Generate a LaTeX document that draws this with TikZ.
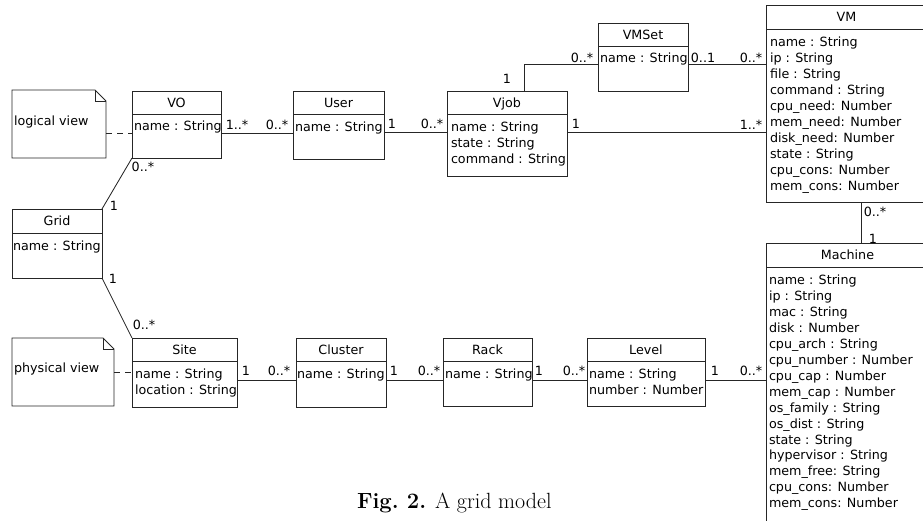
\documentclass[tikz,border=0pt]{standalone}
\usepackage{fontspec}
\newfontfamily\umlf{DejaVu Sans}
\usetikzlibrary{calc}
\definecolor{ln}{HTML}{262626}
\newcommand\mkcls[7]{%
  \node[clsbox, minimum width={(#4-#2)*1pt}, minimum height={(#5-#3)*1pt}] (#1) at (#2,#3) {};
  \draw[conn] ([yshift={-(#6-#3)*1pt}]#1.north west) -- ([yshift={-(#6-#3)*1pt}]#1.north east);
  \node[txt, anchor=base] (#1-t) at ({(#2+#4)/2},{#3+16.5}) {#7};
}
\newcommand\mkattrs[4]{%
  \foreach \t [count=\i] in {#4} {\node[txt, anchor=base west] (#1-a\i) at (#2,{#3+15.95*(\i-1)}) {\t};}
}
\newcommand\mknote[5]{%
  \node[notebox, minimum width={(#4-#2)*1pt}, minimum height={(#5-#3)*1pt}] (#1) at (#2,#3) {};
  \draw[conn] (#1.north west) -- ([xshift=-11pt]#1.north east) -- ([yshift=-11pt]#1.north east)
     -- (#1.south east) -- (#1.south west) -- cycle;
  \draw[conn] ([xshift=-11pt]#1.north east) |- ([yshift=-11pt]#1.north east);
}
\begin{document}
\begin{tikzpicture}[x=1pt,y=-1pt,
  every node/.style={inner sep=0pt, outer sep=0pt},
  conn/.style={draw=ln, line width=0.85pt},
  dconn/.style={conn, dash pattern=on 6pt off 5pt},
  clsbox/.style={draw=ln, line width=0.85pt, anchor=north west, rectangle},
  notebox/.style={anchor=north west, rectangle},
  txt/.style={font=\umlf\fontsize{12.7}{15.9}\selectfont, text=black},
  lab/.style={txt, anchor=center}]
\useasboundingbox (0,0) rectangle (923,520);
\clip (0,0) rectangle (923,520);

% notes
\mknote{lognote}{12}{90}{106}{158}
\node[txt, anchor=base west] (lognote-t) at (14,125.5) {logical view};
\mknote{physnote}{12}{338}{114}{406}
\node[txt, anchor=base west] (physnote-t) at (14,372.5) {physical view};

% classes
\mkcls{vo}{132}{91}{221}{158}{114}{VO}
\mkattrs{vo}{134}{130.5}{name : String}
\mkcls{grid}{12}{209}{102}{278}{233}{Grid}
\mkattrs{grid}{13}{250.5}{name : String}
\mkcls{user}{293}{91}{384}{159}{114}{User}
\mkattrs{user}{295}{131}{name : String}
\mkcls{vjob}{447}{91}{567}{176}{114}{Vjob}
\mkattrs{vjob}{451}{131.5}{name : String, state : String, command : String}
\mkcls{vmset}{598}{23}{688}{91}{46}{VMSet}
\mkattrs{vmset}{600}{62.5}{name : String}
\mkcls{vm}{766}{5}{927}{202}{29}{VM}
\mkattrs{vm}{770}{46.5}{name : String, ip : String, file : String, command : String, cpu\_need: Number, mem\_need: Number, disk\_need: Number, state : String, cpu\_cons: Number, mem\_cons: Number}
\mkcls{machine}{766}{243}{929}{530}{267}{Machine}
\mkattrs{machine}{769}{284.5}{name : String, ip : String, mac : String, disk : Number, cpu\_arch : String, cpu\_number : Number, cpu\_cap : Number, mem\_cap : Number, os\_family : String, os\_dist : String, state : String, hypervisor : String, mem\_free: String, cpu\_cons: Number, mem\_cons: Number}
\mkcls{site}{132}{338}{237}{407}{361}{Site}
\mkattrs{site}{135}{378.5}{name : String, location : String}
\mkcls{cluster}{296}{338}{386}{407}{361}{Cluster}
\mkattrs{cluster}{297}{378.5}{name : String}
\mkcls{rack}{443}{338}{532}{406}{361}{Rack}
\mkattrs{rack}{445}{378.5}{name : String}
\mkcls{level}{587}{338}{705}{406}{361}{Level}
\mkattrs{level}{589}{378.5}{name : String, number : Number}

% connectors
\draw[dconn] ([yshift=-43pt]lognote.north east) -- ([yshift=-42pt]vo.north west);
\draw[dconn] ([yshift=-34pt]physnote.north east) -- ([yshift=-34pt]site.north west);
\draw[conn] ([yshift=-42pt]vo.north east) -- ([yshift=-42pt]user.north west);
\draw[conn] ([yshift=-41pt]user.north east) -- ([yshift=-41pt]vjob.north west);
\draw[conn] ([yshift=-41pt]vjob.north east) -- ([yshift=-127pt]vm.north west);
\draw[conn] ([xshift=77pt]vjob.north west) |- ([yshift=-41.5pt]vmset.north west);
\draw[conn] ([yshift=-41.5pt]vmset.north east) -- ([yshift=-59.5pt]vm.north west);
\draw[conn] ([xshift=95pt]vm.south west) -- ([xshift=95pt]machine.north west);
\draw[conn] (grid.north east) -- (vo.south west);
\draw[conn] (grid.south east) -- (site.north west);
\draw[conn] ([yshift=-42pt]site.north east) -- ([yshift=-42pt]cluster.north west);
\draw[conn] ([yshift=-42pt]cluster.north east) -- ([yshift=-42pt]rack.north west);
\draw[conn] ([yshift=-42pt]rack.north east) -- ([yshift=-42pt]level.north west);
\draw[conn] ([yshift=-42pt]level.north east) -- ([yshift=-137pt]machine.north west);

% multiplicities
\node[lab] (m1) at (237,124.5) {1..*};
\node[lab] (m2) at (277,124.5) {0..*};
\node[lab] (m3) at (392,124) {1};
\node[lab] (m4) at (432,124) {0..*};
\node[lab] (m5) at (576,124) {1};
\node[lab] (m6) at (751,124.5) {1..*};
\node[lab] (m7) at (507,79) {1};
\node[lab] (m8) at (582,58) {0..*};
\node[lab] (m9) at (703,57.5) {0..1};
\node[lab] (m10) at (751,57.5) {0..*};
\node[lab] (m11) at (875,212) {0..*};
\node[lab] (m12) at (873,239) {1};
\node[lab] (m13) at (114,206) {1};
\node[lab] (m14) at (143,167) {0..*};
\node[lab] (m15) at (113,279) {1};
\node[lab] (m16) at (144,325) {0..*};
\node[lab] (m17) at (246,371) {1};
\node[lab] (m18) at (279,371) {0..*};
\node[lab] (m19) at (394,371) {1};
\node[lab] (m20) at (429,371) {0..*};
\node[lab] (m21) at (539,371) {1};
\node[lab] (m22) at (574,371) {0..*};
\node[lab] (m23) at (715,371) {1};
\node[lab] (m24) at (751,371) {0..*};

% caption
\node[anchor=base west, font=\fontsize{22}{26}\selectfont] (cap) at (357,508) {\textbf{Fig.~2.} A grid model};
\end{tikzpicture}
\end{document}
